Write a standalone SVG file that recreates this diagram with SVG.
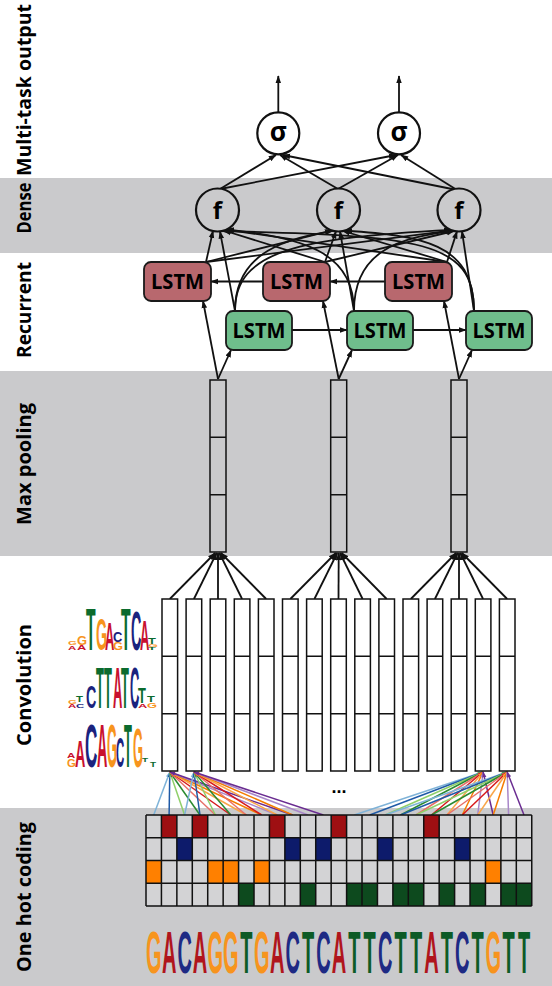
<svg xmlns="http://www.w3.org/2000/svg" width="552" height="986" viewBox="0 0 552 986">
<style>
.band{fill:#cacacc}
.lbl{font-family:"Open Sans","Liberation Sans",sans-serif;font-weight:700;font-size:19px;fill:#000;text-anchor:middle}
.edge{stroke:#111;stroke-width:1.8;fill:none}
.circ{stroke:#111;stroke-width:2.2}
.sym{font-family:"Open Sans","DejaVu Sans",sans-serif;font-weight:700;fill:#000;text-anchor:middle}
.box{stroke:#1a1a1a;stroke-width:1.8}
.bw{fill:#b8686e}
.fw{fill:#6fbe8c}
.bt{font-family:"Open Sans","Liberation Sans",sans-serif;font-weight:700;font-size:21px;fill:#000;text-anchor:middle}
.col{fill:#fff;stroke:#111;stroke-width:1.5}
.pool{fill:none;stroke:#111;stroke-width:1.5}
.div{stroke:#111;stroke-width:1.5;fill:none}
.cl{stroke-width:1.5;fill:none}
.lg{font-family:"Liberation Sans",Arial,sans-serif;font-weight:700;font-size:10px}
.oA{fill:#c8102e}.oC{fill:#1a237e}.oG{fill:#f7941d}.oT{fill:#0b6b2e}
.sA{fill:#b0151c}.sC{fill:#1e2a84}.sG{fill:#f7941e}.sT{fill:#0d5b26}
.seq{font-family:"Liberation Sans",Arial,sans-serif;font-weight:700;font-size:20px;text-anchor:middle}
.cell{fill:#d3d3d5}
.hr{fill:#9e0f12}.hb{fill:#0d1b6b}.ho{fill:#ff8000}.hg{fill:#0d4a1e}
.c0{stroke:#7fb3d8}.c1{stroke:#1f5aa6}.c2{stroke:#8fcf6a}.c3{stroke:#2a8a30}.c4{stroke:#e8706a}
.c5{stroke:#d7191c}.c6{stroke:#f9a64a}.c7{stroke:#f57c00}.c8{stroke:#a987c9}.c9{stroke:#6a2c91}
</style>
<defs>
<marker id="ah" viewBox="0 0 10 10" refX="9" refY="5" markerWidth="8" markerHeight="8" markerUnits="userSpaceOnUse" orient="auto"><path d="M0,1.5L10,5L0,8.5z" fill="#111"/></marker>
<marker id="m0" viewBox="0 0 10 10" refX="9" refY="5" markerWidth="6" markerHeight="6" markerUnits="userSpaceOnUse" orient="auto"><path d="M0,1.5L10,5L0,8.5z" fill="#7fb3d8"/></marker>
<marker id="m1" viewBox="0 0 10 10" refX="9" refY="5" markerWidth="6" markerHeight="6" markerUnits="userSpaceOnUse" orient="auto"><path d="M0,1.5L10,5L0,8.5z" fill="#1f5aa6"/></marker>
<marker id="m2" viewBox="0 0 10 10" refX="9" refY="5" markerWidth="6" markerHeight="6" markerUnits="userSpaceOnUse" orient="auto"><path d="M0,1.5L10,5L0,8.5z" fill="#8fcf6a"/></marker>
<marker id="m3" viewBox="0 0 10 10" refX="9" refY="5" markerWidth="6" markerHeight="6" markerUnits="userSpaceOnUse" orient="auto"><path d="M0,1.5L10,5L0,8.5z" fill="#2a8a30"/></marker>
<marker id="m4" viewBox="0 0 10 10" refX="9" refY="5" markerWidth="6" markerHeight="6" markerUnits="userSpaceOnUse" orient="auto"><path d="M0,1.5L10,5L0,8.5z" fill="#e8706a"/></marker>
<marker id="m5" viewBox="0 0 10 10" refX="9" refY="5" markerWidth="6" markerHeight="6" markerUnits="userSpaceOnUse" orient="auto"><path d="M0,1.5L10,5L0,8.5z" fill="#d7191c"/></marker>
<marker id="m6" viewBox="0 0 10 10" refX="9" refY="5" markerWidth="6" markerHeight="6" markerUnits="userSpaceOnUse" orient="auto"><path d="M0,1.5L10,5L0,8.5z" fill="#f9a64a"/></marker>
<marker id="m7" viewBox="0 0 10 10" refX="9" refY="5" markerWidth="6" markerHeight="6" markerUnits="userSpaceOnUse" orient="auto"><path d="M0,1.5L10,5L0,8.5z" fill="#f57c00"/></marker>
<marker id="m8" viewBox="0 0 10 10" refX="9" refY="5" markerWidth="6" markerHeight="6" markerUnits="userSpaceOnUse" orient="auto"><path d="M0,1.5L10,5L0,8.5z" fill="#a987c9"/></marker>
<marker id="m9" viewBox="0 0 10 10" refX="9" refY="5" markerWidth="6" markerHeight="6" markerUnits="userSpaceOnUse" orient="auto"><path d="M0,1.5L10,5L0,8.5z" fill="#6a2c91"/></marker>
</defs>

<rect width="552" height="986" fill="#fff"/>
<g id="bands">
<rect class="band" x="0" y="178" width="552" height="75"/>
<rect class="band" x="0" y="371" width="552" height="185"/>
<rect class="band" x="0" y="808" width="552" height="178"/>
</g>

<g id="labels">
<text class="lbl" transform="translate(31,90) rotate(-90)" textLength="172" lengthAdjust="spacingAndGlyphs">Multi-task output</text>
<text class="lbl" transform="translate(31,208) rotate(-90)" textLength="51" lengthAdjust="spacingAndGlyphs">Dense</text>
<text class="lbl" transform="translate(31,310) rotate(-90)" textLength="96" lengthAdjust="spacingAndGlyphs">Recurrent</text>
<text class="lbl" transform="translate(31,464) rotate(-90)" textLength="122" lengthAdjust="spacingAndGlyphs">Max pooling</text>
<text class="lbl" transform="translate(31,685) rotate(-90)" textLength="122" lengthAdjust="spacingAndGlyphs">Convolution</text>
<text class="lbl" transform="translate(31,897) rotate(-90)" textLength="150" lengthAdjust="spacingAndGlyphs">One hot coding</text>
</g>

<g id="connectors">
<!-- outputs -->
<line class="edge" x1="278.3" y1="112" x2="278.3" y2="76" marker-end="url(#ah)"/>
<line class="edge" x1="399" y1="112" x2="399" y2="76" marker-end="url(#ah)"/>
<!-- dense to sigma -->
<line class="edge" x1="220" y1="189" x2="276" y2="155" marker-end="url(#ah)"/>
<line class="edge" x1="220" y1="189" x2="396" y2="155" marker-end="url(#ah)"/>
<line class="edge" x1="338" y1="189" x2="280" y2="155" marker-end="url(#ah)"/>
<line class="edge" x1="338" y1="189" x2="398" y2="155" marker-end="url(#ah)"/>
<line class="edge" x1="457" y1="190" x2="283" y2="155" marker-end="url(#ah)"/>
<line class="edge" x1="457" y1="190" x2="401" y2="155" marker-end="url(#ah)"/>
<!-- backward LSTM to dense -->
<line class="edge" x1="206" y1="262" x2="213" y2="230.9" marker-end="url(#ah)"/>
<line class="edge" x1="206" y1="262" x2="332" y2="230.5" marker-end="url(#ah)"/>
<line class="edge" x1="206" y1="262" x2="452" y2="230.3" marker-end="url(#ah)"/>
<line class="edge" x1="325" y1="262" x2="224" y2="230.5" marker-end="url(#ah)"/>
<line class="edge" x1="325" y1="262" x2="336" y2="231.3" marker-end="url(#ah)"/>
<line class="edge" x1="325" y1="262" x2="454" y2="231" marker-end="url(#ah)"/>
<line class="edge" x1="447" y1="262" x2="226" y2="229.6" marker-end="url(#ah)"/>
<line class="edge" x1="447" y1="262" x2="343" y2="231" marker-end="url(#ah)"/>
<line class="edge" x1="447" y1="262" x2="457" y2="231.4" marker-end="url(#ah)"/>
<!-- forward LSTM to dense -->
<line class="edge" x1="235" y1="311" x2="220" y2="231.4" marker-end="url(#ah)"/>
<path class="edge" d="M235,311 C235,250 290,238 333,230.8" marker-end="url(#ah)"/>
<path class="edge" d="M235,311 C235,250 300,238 451,229.9" marker-end="url(#ah)"/>
<path class="edge" d="M354,311 C354,250 300,238 227,229.3" marker-end="url(#ah)"/>
<line class="edge" x1="354" y1="311" x2="340" y2="231.4" marker-end="url(#ah)"/>
<path class="edge" d="M354,311 C354,250 400,238 453,230.6" marker-end="url(#ah)"/>
<path class="edge" d="M474,311 C474,240 420,236 222,231" marker-end="url(#ah)"/>
<path class="edge" d="M474,311 C474,242 420,236 345,230.5" marker-end="url(#ah)"/>
<line class="edge" x1="474" y1="311" x2="462" y2="231.3" marker-end="url(#ah)"/>
<!-- recurrent arrows -->
<line class="edge" x1="292" y1="330" x2="347" y2="330" marker-end="url(#ah)"/>
<line class="edge" x1="413" y1="330" x2="466" y2="330" marker-end="url(#ah)"/>
<line class="edge" x1="385" y1="281.5" x2="330" y2="281.5" marker-end="url(#ah)"/>
<line class="edge" x1="263" y1="281.5" x2="211" y2="281.5" marker-end="url(#ah)"/>
<!-- pooling to LSTMs -->
<line class="edge" x1="218" y1="379" x2="203" y2="301" marker-end="url(#ah)"/>
<line class="edge" x1="218" y1="379" x2="231" y2="350" marker-end="url(#ah)"/>
<line class="edge" x1="338.7" y1="379" x2="323" y2="301" marker-end="url(#ah)"/>
<line class="edge" x1="338.7" y1="379" x2="352" y2="350" marker-end="url(#ah)"/>
<line class="edge" x1="459" y1="379" x2="444" y2="301" marker-end="url(#ah)"/>
<line class="edge" x1="459" y1="379" x2="472" y2="350" marker-end="url(#ah)"/>
<!-- convolution to pooling -->
<g class="edge" stroke-width="2">
<line x1="169.8" y1="599" x2="215.1" y2="553" marker-end="url(#ah)"/>
<line x1="193.9" y1="599" x2="216.6" y2="553" marker-end="url(#ah)"/>
<line x1="218" y1="599" x2="218" y2="553" marker-end="url(#ah)"/>
<line x1="242.1" y1="599" x2="219.4" y2="553" marker-end="url(#ah)"/>
<line x1="266.2" y1="599" x2="220.9" y2="553" marker-end="url(#ah)"/>
<line x1="290.3" y1="599" x2="335.8" y2="553" marker-end="url(#ah)"/>
<line x1="314.4" y1="599" x2="337.2" y2="553" marker-end="url(#ah)"/>
<line x1="338.5" y1="599" x2="338.7" y2="553" marker-end="url(#ah)"/>
<line x1="362.6" y1="599" x2="340.1" y2="553" marker-end="url(#ah)"/>
<line x1="386.7" y1="599" x2="341.6" y2="553" marker-end="url(#ah)"/>
<line x1="410.8" y1="599" x2="456.1" y2="553" marker-end="url(#ah)"/>
<line x1="434.9" y1="599" x2="457.6" y2="553" marker-end="url(#ah)"/>
<line x1="459" y1="599" x2="459" y2="553" marker-end="url(#ah)"/>
<line x1="483.1" y1="599" x2="460.4" y2="553" marker-end="url(#ah)"/>
<line x1="507.2" y1="599" x2="461.9" y2="553" marker-end="url(#ah)"/>
</g>
<!-- one-hot to convolution -->
<g id="conv-inputs">
<line class="cl c0" x1="153.7" y1="815" x2="169.8" y2="772" marker-end="url(#m0)"/>
<line class="cl c1" x1="169.1" y1="815" x2="169.8" y2="772" marker-end="url(#m1)"/>
<line class="cl c2" x1="184.6" y1="815" x2="169.8" y2="772" marker-end="url(#m2)"/>
<line class="cl c3" x1="200.0" y1="815" x2="169.8" y2="772" marker-end="url(#m3)"/>
<line class="cl c4" x1="215.4" y1="815" x2="169.8" y2="772" marker-end="url(#m4)"/>
<line class="cl c5" x1="230.9" y1="815" x2="169.8" y2="772" marker-end="url(#m5)"/>
<line class="cl c6" x1="246.3" y1="815" x2="169.8" y2="772" marker-end="url(#m6)"/>
<line class="cl c7" x1="261.7" y1="815" x2="169.8" y2="772" marker-end="url(#m7)"/>
<line class="cl c8" x1="277.2" y1="815" x2="169.8" y2="772" marker-end="url(#m8)"/>
<line class="cl c9" x1="292.6" y1="815" x2="169.8" y2="772" marker-end="url(#m9)"/>
<line class="cl c0" x1="184.6" y1="815" x2="193.9" y2="772" marker-end="url(#m0)"/>
<line class="cl c1" x1="200.0" y1="815" x2="193.9" y2="772" marker-end="url(#m1)"/>
<line class="cl c2" x1="215.4" y1="815" x2="193.9" y2="772" marker-end="url(#m2)"/>
<line class="cl c3" x1="230.9" y1="815" x2="193.9" y2="772" marker-end="url(#m3)"/>
<line class="cl c4" x1="246.3" y1="815" x2="193.9" y2="772" marker-end="url(#m4)"/>
<line class="cl c5" x1="261.7" y1="815" x2="193.9" y2="772" marker-end="url(#m5)"/>
<line class="cl c6" x1="277.2" y1="815" x2="193.9" y2="772" marker-end="url(#m6)"/>
<line class="cl c7" x1="292.6" y1="815" x2="193.9" y2="772" marker-end="url(#m7)"/>
<line class="cl c8" x1="308.0" y1="815" x2="193.9" y2="772" marker-end="url(#m8)"/>
<line class="cl c9" x1="323.4" y1="815" x2="193.9" y2="772" marker-end="url(#m9)"/>
<line class="cl c0" x1="354.3" y1="815" x2="483.1" y2="772" marker-end="url(#m0)"/>
<line class="cl c1" x1="369.7" y1="815" x2="483.1" y2="772" marker-end="url(#m1)"/>
<line class="cl c2" x1="385.2" y1="815" x2="483.1" y2="772" marker-end="url(#m2)"/>
<line class="cl c3" x1="400.6" y1="815" x2="483.1" y2="772" marker-end="url(#m3)"/>
<line class="cl c4" x1="416.0" y1="815" x2="483.1" y2="772" marker-end="url(#m4)"/>
<line class="cl c5" x1="431.5" y1="815" x2="483.1" y2="772" marker-end="url(#m5)"/>
<line class="cl c6" x1="446.9" y1="815" x2="483.1" y2="772" marker-end="url(#m6)"/>
<line class="cl c7" x1="462.3" y1="815" x2="483.1" y2="772" marker-end="url(#m7)"/>
<line class="cl c8" x1="477.7" y1="815" x2="483.1" y2="772" marker-end="url(#m8)"/>
<line class="cl c9" x1="493.2" y1="815" x2="483.1" y2="772" marker-end="url(#m9)"/>
<line class="cl c0" x1="385.2" y1="815" x2="507.2" y2="772" marker-end="url(#m0)"/>
<line class="cl c1" x1="400.6" y1="815" x2="507.2" y2="772" marker-end="url(#m1)"/>
<line class="cl c2" x1="416.0" y1="815" x2="507.2" y2="772" marker-end="url(#m2)"/>
<line class="cl c3" x1="431.5" y1="815" x2="507.2" y2="772" marker-end="url(#m3)"/>
<line class="cl c4" x1="446.9" y1="815" x2="507.2" y2="772" marker-end="url(#m4)"/>
<line class="cl c5" x1="462.3" y1="815" x2="507.2" y2="772" marker-end="url(#m5)"/>
<line class="cl c6" x1="477.7" y1="815" x2="507.2" y2="772" marker-end="url(#m6)"/>
<line class="cl c7" x1="493.2" y1="815" x2="507.2" y2="772" marker-end="url(#m7)"/>
<line class="cl c8" x1="508.6" y1="815" x2="507.2" y2="772" marker-end="url(#m8)"/>
<line class="cl c9" x1="524.0" y1="815" x2="507.2" y2="772" marker-end="url(#m9)"/>
</g>
</g>

<g id="sigma1"><circle class="circ" cx="278.3" cy="133.3" r="21" fill="#fff"/><text class="sym" x="278.3" y="141" font-size="26">σ</text></g>
<g id="sigma2"><circle class="circ" cx="399" cy="133.3" r="21" fill="#fff"/><text class="sym" x="399" y="141" font-size="26">σ</text></g>
<g id="f1"><circle class="circ" cx="217.5" cy="210" r="21.5" fill="#cacacc"/><text class="sym" x="217.5" y="218.5" font-size="24">f</text></g>
<g id="f2"><circle class="circ" cx="338.5" cy="210" r="21.5" fill="#cacacc"/><text class="sym" x="338.5" y="218.5" font-size="24">f</text></g>
<g id="f3"><circle class="circ" cx="459" cy="210" r="21.5" fill="#cacacc"/><text class="sym" x="459" y="218.5" font-size="24">f</text></g>

<g id="lstm-b1"><rect class="box bw" x="144" y="262" width="67" height="39" rx="7"/><text class="bt" x="177.5" y="289" textLength="53" lengthAdjust="spacingAndGlyphs">LSTM</text></g>
<g id="lstm-b2"><rect class="box bw" x="263" y="262" width="67" height="39" rx="7"/><text class="bt" x="296.5" y="289" textLength="53" lengthAdjust="spacingAndGlyphs">LSTM</text></g>
<g id="lstm-b3"><rect class="box bw" x="385" y="262" width="67" height="39" rx="7"/><text class="bt" x="418.5" y="289" textLength="53" lengthAdjust="spacingAndGlyphs">LSTM</text></g>
<g id="lstm-f1"><rect class="box fw" x="226" y="311" width="66" height="39" rx="7"/><text class="bt" x="259" y="338" textLength="53" lengthAdjust="spacingAndGlyphs">LSTM</text></g>
<g id="lstm-f2"><rect class="box fw" x="347" y="311" width="66" height="39" rx="7"/><text class="bt" x="380" y="338" textLength="53" lengthAdjust="spacingAndGlyphs">LSTM</text></g>
<g id="lstm-f3"><rect class="box fw" x="466" y="311" width="66" height="39" rx="7"/><text class="bt" x="499" y="338" textLength="53" lengthAdjust="spacingAndGlyphs">LSTM</text></g>

<g id="pool1"><rect class="pool" x="210" y="380" width="16" height="172"/><path class="div" d="M210,437.3h16M210,494.7h16"/></g>
<g id="pool2"><rect class="pool" x="330.7" y="380" width="16" height="172"/><path class="div" d="M330.7,437.3h16M330.7,494.7h16"/></g>
<g id="pool3"><rect class="pool" x="451" y="380" width="16" height="172"/><path class="div" d="M451,437.3h16M451,494.7h16"/></g>

<g id="conv">
<rect class="col" x="162" y="599" width="15.6" height="172"/>
<rect class="col" x="186.1" y="599" width="15.6" height="172"/>
<rect class="col" x="210.2" y="599" width="15.6" height="172"/>
<rect class="col" x="234.3" y="599" width="15.6" height="172"/>
<rect class="col" x="258.4" y="599" width="15.6" height="172"/>
<rect class="col" x="282.5" y="599" width="15.6" height="172"/>
<rect class="col" x="306.6" y="599" width="15.6" height="172"/>
<rect class="col" x="330.7" y="599" width="15.6" height="172"/>
<rect class="col" x="354.8" y="599" width="15.6" height="172"/>
<rect class="col" x="378.9" y="599" width="15.6" height="172"/>
<rect class="col" x="403" y="599" width="15.6" height="172"/>
<rect class="col" x="427.1" y="599" width="15.6" height="172"/>
<rect class="col" x="451.2" y="599" width="15.6" height="172"/>
<rect class="col" x="475.3" y="599" width="15.6" height="172"/>
<rect class="col" x="499.4" y="599" width="15.6" height="172"/>
<path class="div" d="M162,656.3h15.6M186.1,656.3h15.6M210.2,656.3h15.6M234.3,656.3h15.6M258.4,656.3h15.6M282.5,656.3h15.6M306.6,656.3h15.6M330.7,656.3h15.6M354.8,656.3h15.6M378.9,656.3h15.6M403,656.3h15.6M427.1,656.3h15.6M451.2,656.3h15.6M475.3,656.3h15.6M499.4,656.3h15.6
M162,713.7h15.6M186.1,713.7h15.6M210.2,713.7h15.6M234.3,713.7h15.6M258.4,713.7h15.6M282.5,713.7h15.6M306.6,713.7h15.6M330.7,713.7h15.6M354.8,713.7h15.6M378.9,713.7h15.6M403,713.7h15.6M427.1,713.7h15.6M451.2,713.7h15.6M475.3,713.7h15.6M499.4,713.7h15.6"/>
<text x="339" y="793" font-family="Liberation Sans, Arial, sans-serif" font-weight="700" font-size="18" text-anchor="middle" fill="#000">...</text>
</g>

<g id="motifs" class="lg">
<!-- motif 1 -->
<text class="oG" transform="matrix(1.14 0 0 0.56 68 645)">G</text>
<text class="oA" transform="matrix(1.14 0 0 0.56 68 650)">A</text>
<text class="oG" transform="matrix(1.29 0 0 1.26 77 645)">G</text>
<text class="oA" transform="matrix(1.29 0 0 0.7 77 650)">A</text>
<text class="oT" transform="matrix(1.57 0 0 6.0 86 650)">T</text>
<text class="oG" transform="matrix(1.43 0 0 4.47 96 650)">G</text>
<text class="oA" transform="matrix(1.29 0 0 3.91 105 650)">A</text>
<text class="oC" transform="matrix(1.29 0 0 1.4 113 642)">C</text>
<text class="oG" transform="matrix(1.29 0 0 1.12 113 650)">G</text>
<text class="oT" transform="matrix(1.57 0 0 6.0 121 650)">T</text>
<text class="oC" transform="matrix(1.43 0 0 5.59 131 650)">C</text>
<text class="oA" transform="matrix(1.29 0 0 4.19 140 650)">A</text>
<text class="oT" transform="matrix(1.29 0 0 0.98 148 644)">T</text>
<text class="oG" transform="matrix(1.29 0 0 0.42 148 647)">G</text>
<text class="oT" transform="matrix(1.29 0 0 0.42 148 650)">T</text>
<!-- motif 2 -->
<text class="oG" transform="matrix(1.14 0 0 0.56 68 704)">G</text>
<text class="oA" transform="matrix(1.14 0 0 0.56 68 708)">A</text>
<text class="oT" transform="matrix(1.14 0 0 0.84 76 702)">T</text>
<text class="oC" transform="matrix(1.14 0 0 0.56 76 708)">C</text>
<text class="oC" transform="matrix(1.43 0 0 3.07 86 708)">C</text>
<text class="oT" transform="matrix(1.29 0 0 5.73 96 708)">T</text>
<text class="oT" transform="matrix(1.29 0 0 5.73 104 708)">T</text>
<text class="oA" transform="matrix(1.29 0 0 5.73 113 708)">A</text>
<text class="oT" transform="matrix(1.29 0 0 5.73 121 708)">T</text>
<text class="oC" transform="matrix(1.29 0 0 5.73 130 708)">C</text>
<text class="oT" transform="matrix(1.29 0 0 2.23 138 703)">T</text>
<text class="oA" transform="matrix(1.29 0 0 0.56 138 708)">A</text>
<text class="oT" transform="matrix(1.29 0 0 0.84 147 702)">T</text>
<text class="oG" transform="matrix(1.29 0 0 0.7 147 708)">G</text>
<!-- motif 3 -->
<text class="oA" transform="matrix(1.14 0 0 0.7 67 758)">A</text>
<text class="oG" transform="matrix(1.14 0 0 1.12 67 767)">G</text>
<text class="oA" transform="matrix(1.43 0 0 3.63 75 767)">A</text>
<text class="oC" transform="matrix(1.71 0 0 6.15 85 767)">C</text>
<text class="oA" transform="matrix(1.43 0 0 6.15 97 767)">A</text>
<text class="oG" transform="matrix(1.29 0 0 6.15 107 767)">G</text>
<text class="oC" transform="matrix(1.14 0 0 4.19 116 767)">C</text>
<text class="oT" transform="matrix(1.29 0 0 6.15 124 767)">T</text>
<text class="oG" transform="matrix(1.29 0 0 5.59 133 767)">G</text>
<text class="oT" transform="matrix(1.0 0 0 0.56 142 762)">T</text>
<text class="oT" transform="matrix(1.0 0 0 0.7 150 767)">T</text>
</g>

<g id="onehot">
<rect class="cell" x="146" y="815" width="385.75" height="91"/>
<rect class="hr" x="161.43" y="815" width="15.43" height="22.75"/>
<rect class="hr" x="192.29" y="815" width="15.43" height="22.75"/>
<rect class="hr" x="269.44" y="815" width="15.43" height="22.75"/>
<rect class="hr" x="331.16" y="815" width="15.43" height="22.75"/>
<rect class="hr" x="423.74" y="815" width="15.43" height="22.75"/>
<rect class="hb" x="176.86" y="837.75" width="15.43" height="22.75"/>
<rect class="hb" x="284.87" y="837.75" width="15.43" height="22.75"/>
<rect class="hb" x="315.73" y="837.75" width="15.43" height="22.75"/>
<rect class="hb" x="377.45" y="837.75" width="15.43" height="22.75"/>
<rect class="hb" x="454.60" y="837.75" width="15.43" height="22.75"/>
<rect class="ho" x="146" y="860.5" width="15.43" height="22.75"/>
<rect class="ho" x="207.72" y="860.5" width="15.43" height="22.75"/>
<rect class="ho" x="223.15" y="860.5" width="15.43" height="22.75"/>
<rect class="ho" x="254.01" y="860.5" width="15.43" height="22.75"/>
<rect class="ho" x="485.46" y="860.5" width="15.43" height="22.75"/>
<rect class="hg" x="238.58" y="883.25" width="15.43" height="22.75"/>
<rect class="hg" x="300.30" y="883.25" width="15.43" height="22.75"/>
<rect class="hg" x="346.59" y="883.25" width="15.43" height="22.75"/>
<rect class="hg" x="362.02" y="883.25" width="15.43" height="22.75"/>
<rect class="hg" x="392.88" y="883.25" width="15.43" height="22.75"/>
<rect class="hg" x="408.31" y="883.25" width="15.43" height="22.75"/>
<rect class="hg" x="439.17" y="883.25" width="15.43" height="22.75"/>
<rect class="hg" x="470.03" y="883.25" width="15.43" height="22.75"/>
<rect class="hg" x="500.89" y="883.25" width="15.43" height="22.75"/>
<rect class="hg" x="516.32" y="883.25" width="15.43" height="22.75"/>
<path class="div" stroke-width="1.6" d="M146,815V906M161.43,815V906M176.86,815V906M192.29,815V906M207.72,815V906M223.15,815V906M238.58,815V906M254.01,815V906M269.44,815V906M284.87,815V906M300.30,815V906M315.73,815V906M331.16,815V906M346.59,815V906M362.02,815V906M377.45,815V906M392.88,815V906M408.31,815V906M423.74,815V906M439.17,815V906M454.60,815V906M470.03,815V906M485.46,815V906M500.89,815V906M516.32,815V906M531.75,815V906
M146,815H531.75M146,837.75H531.75M146,860.5H531.75M146,883.25H531.75M146,906H531.75"/>
</g>

<g id="sequence">
<text class="seq" transform="translate(0,973) scale(1,2.93)"><tspan class="sG" x="153.7" y="0">G</tspan><tspan class="sA" x="169.1" y="0">A</tspan><tspan class="sC" x="184.6" y="0">C</tspan><tspan class="sA" x="200.0" y="0">A</tspan><tspan class="sG" x="215.4" y="0">G</tspan><tspan class="sG" x="230.9" y="0">G</tspan><tspan class="sT" x="246.3" y="0">T</tspan><tspan class="sG" x="261.7" y="0">G</tspan><tspan class="sA" x="277.2" y="0">A</tspan><tspan class="sC" x="292.6" y="0">C</tspan><tspan class="sT" x="308.0" y="0">T</tspan><tspan class="sC" x="323.4" y="0">C</tspan><tspan class="sA" x="338.9" y="0">A</tspan><tspan class="sT" x="354.3" y="0">T</tspan><tspan class="sT" x="369.7" y="0">T</tspan><tspan class="sC" x="385.2" y="0">C</tspan><tspan class="sT" x="400.6" y="0">T</tspan><tspan class="sT" x="416.0" y="0">T</tspan><tspan class="sA" x="431.5" y="0">A</tspan><tspan class="sT" x="446.9" y="0">T</tspan><tspan class="sC" x="462.3" y="0">C</tspan><tspan class="sT" x="477.7" y="0">T</tspan><tspan class="sG" x="493.2" y="0">G</tspan><tspan class="sT" x="508.6" y="0">T</tspan><tspan class="sT" x="524.0" y="0">T</tspan></text>
</g>
</svg>
